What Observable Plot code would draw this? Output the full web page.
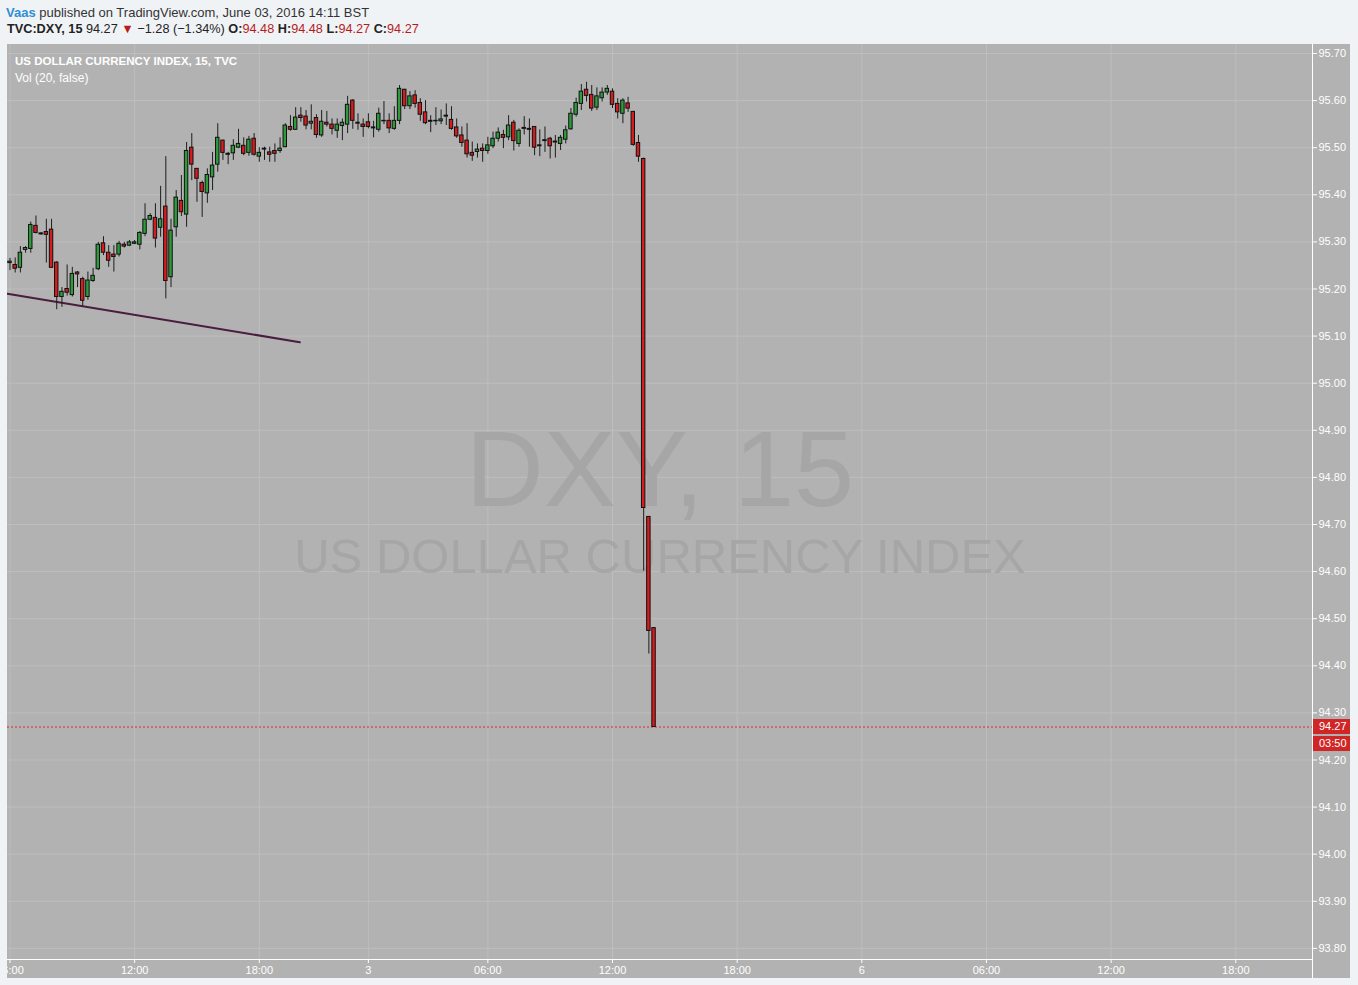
<!DOCTYPE html>
<html><head><meta charset="utf-8">
<script src="https://cdn.jsdelivr.net/npm/d3@7"></script>
<script src="https://cdn.jsdelivr.net/npm/@observablehq/plot@0.6"></script>
<style>
body{margin:0;background:#f0f3f6;font-family:"Liberation Sans",Arial,sans-serif;width:1358px;height:985px;position:relative;overflow:hidden}
#h1{position:absolute;left:6px;top:5px;font-size:13px;color:#333;white-space:nowrap}
#h1 .u{color:#2f8fd3;font-weight:bold}
#h2{position:absolute;left:7px;top:22px;font-size:12.7px;color:#222;white-space:nowrap}
#h2 b{font-weight:bold}
.r{color:#b71c1c}
#chart{position:absolute;left:7px;top:44px}
#legend{position:absolute;left:15px;top:53px;color:#fff;font-size:12px;line-height:17px;white-space:nowrap}
#legend .t{font-weight:bold;font-size:11.5px}
</style></head><body>
<div id="h1"><span class="u">Vaas</span> published on TradingView.com, June 03, 2016 14:11 BST</div>
<div id="h2"><b>TVC:DXY, 15</b> 94.27 <span class="r">▼</span> −1.28 (−1.34%) <b>O:</b><span class="r">94.48</span> <b>H:</b><span class="r">94.48</span> <b>L:</b><span class="r">94.27</span> <b>C:</b><span class="r">94.27</span></div>
<div id="chart"></div>
<div id="legend"><div class="t">US DOLLAR CURRENCY INDEX, 15, TVC</div><div>Vol (20, false)</div></div>
<script>
// 15-minute candles, June 2 06:00 BST -> June 3 14:00 BST
const open = [95.255,95.251,95.245,95.283,95.285,95.334,95.316,95.321,95.326,95.256,
95.183,95.200,95.187,95.235,95.221,95.183,95.217,95.242,95.297,95.277,
95.273,95.273,95.294,95.292,95.296,95.294,95.317,95.347,95.351,95.330,
95.375,95.225,95.331,95.387,95.358,95.500,95.455,95.425,95.403,95.437,
95.464,95.515,95.485,95.488,95.500,95.504,95.489,95.519,95.481,95.496,
95.490,95.493,95.493,95.501,95.544,95.538,95.568,95.566,95.551,95.563,
95.526,95.553,95.549,95.536,95.546,95.549,95.600,95.551,95.549,95.554,
95.541,95.538,95.556,95.557,95.540,95.557,95.623,95.588,95.611,95.595,
95.575,95.555,95.556,95.556,95.566,95.559,95.543,95.526,95.515,95.489,
95.491,95.498,95.493,95.503,95.519,95.527,95.522,95.553,95.508,95.540,
95.540,95.544,95.505,95.514,95.519,95.511,95.508,95.517,95.539,95.570,
95.593,95.623,95.612,95.585,95.605,95.617,95.619,95.593,95.572,95.594,
95.576,95.510,95.476,94.716,94.48];
const high = [95.265,95.266,95.290,95.290,95.342,95.355,95.320,95.348,95.348,95.258,
95.203,95.251,95.246,95.237,95.225,95.236,95.244,95.299,95.311,95.292,
95.292,95.301,95.299,95.303,95.303,95.322,95.381,95.360,95.381,95.418,
95.481,95.348,95.409,95.441,95.511,95.530,95.456,95.429,95.455,95.490,
95.551,95.516,95.490,95.517,95.539,95.521,95.524,95.530,95.500,95.501,
95.501,95.508,95.521,95.551,95.568,95.585,95.585,95.579,95.591,95.570,
95.579,95.577,95.561,95.561,95.561,95.609,95.602,95.572,95.561,95.572,
95.556,95.584,95.598,95.572,95.587,95.632,95.624,95.619,95.621,95.604,
95.600,95.568,95.585,95.580,95.593,95.587,95.561,95.544,95.551,95.512,
95.508,95.508,95.522,95.533,95.542,95.537,95.568,95.558,95.540,95.566,
95.561,95.545,95.538,95.544,95.522,95.526,95.526,95.546,95.583,95.605,
95.634,95.639,95.632,95.627,95.627,95.632,95.625,95.604,95.604,95.607,
95.577,95.526,95.478,94.717,94.48];
const low = [95.239,95.234,95.234,95.276,95.276,95.317,95.314,95.255,95.244,95.156,
95.161,95.185,95.183,95.203,95.163,95.176,95.214,95.239,95.271,95.246,
95.236,95.268,95.287,95.290,95.294,95.283,95.311,95.345,95.287,95.310,
95.179,95.203,95.310,95.354,95.331,95.430,95.384,95.352,95.382,95.409,
95.448,95.473,95.464,95.473,95.498,95.483,95.482,95.482,95.469,95.473,
95.469,95.469,95.488,95.500,95.535,95.537,95.554,95.538,95.538,95.520,
95.522,95.544,95.527,95.520,95.515,95.530,95.539,95.537,95.522,95.540,
95.521,95.533,95.549,95.530,95.537,95.549,95.581,95.581,95.584,95.556,
95.549,95.532,95.547,95.549,95.547,95.537,95.520,95.501,95.478,95.471,
95.478,95.469,95.486,95.498,95.512,95.498,95.515,95.493,95.501,95.527,
95.501,95.483,95.481,95.490,95.476,95.478,95.494,95.508,95.537,95.565,
95.579,95.597,95.577,95.579,95.597,95.611,95.583,95.561,95.551,95.575,
95.503,95.469,94.601,94.425,94.27];
const close = [95.258,95.243,95.277,95.287,95.336,95.319,95.318,95.315,95.245,95.183,
95.194,95.192,95.232,95.231,95.175,95.218,95.228,95.294,95.277,95.260,
95.268,95.296,95.290,95.299,95.299,95.319,95.347,95.355,95.307,95.348,
95.217,95.324,95.394,95.363,95.493,95.464,95.434,95.406,95.442,95.462,
95.521,95.489,95.487,95.504,95.508,95.487,95.517,95.485,95.489,95.498,
95.485,95.487,95.498,95.547,95.538,95.564,95.563,95.547,95.555,95.527,
95.555,95.549,95.540,95.549,95.553,95.591,95.557,95.553,95.544,95.544,
95.543,95.572,95.557,95.541,95.557,95.625,95.588,95.609,95.593,95.570,
95.552,95.557,95.557,95.560,95.568,95.540,95.524,95.510,95.486,95.483,
95.496,95.493,95.505,95.519,95.532,95.521,95.547,95.514,95.536,95.542,
95.538,95.500,95.503,95.516,95.503,95.513,95.521,95.537,95.572,95.595,
95.619,95.610,95.583,95.609,95.617,95.625,95.591,95.575,95.600,95.583,
95.506,95.481,94.735,94.474,94.27];

// time axis (candle slot index -> label); slots after 124 are the empty future
const xTickIndex = [0, 24, 48, 69, 92, 116, 140, 164, 188, 212, 236];
const xTickLabels = ["06:00", "12:00", "18:00", "3", "06:00", "12:00", "18:00", "6", "06:00", "12:00", "18:00"];
const yTicks = [93.8,93.9,94.0,94.1,94.2,94.3,94.4,94.5,94.6,94.7,94.8,94.9,95.0,95.1,95.2,95.3,95.4,95.5,95.6,95.7];

// hand-drawn trend line (slot index, price)
const trendIndex = [-0.5, 55.8];
const trendValue = [95.190, 95.087];

const watermarkTitle = "DXY, 15";
const watermarkName = "US DOLLAR CURRENCY INDEX";
const timerLabel = "03:50";

const candles = open.map((o, i) => ({i, open: o, high: high[i], low: low[i], close: close[i]}));
const trend = trendIndex.map((x, k) => ({x, y: trendValue[k]}));
const labelMap = new Map(xTickIndex.map((d, k) => [d, xTickLabels[k]]));
const last = close[close.length - 1];

const W = 1343, H = 934, MR = 38, MB = 19;
const chart = Plot.plot({
  width: W, height: H,
  marginLeft: 0, marginTop: 0, marginRight: MR, marginBottom: MB,
  style: {background: "#b2b2b2", fontFamily: "Liberation Sans, Arial, sans-serif", fontSize: "11px", overflow: "hidden"},
  x: {type: "linear", domain: [-0.481, 250.77]},
  y: {domain: [93.7764, 95.7191]},
  color: {type: "identity"},
  marks: [
    Plot.gridY(yTicks, {stroke: "#bebebe", strokeOpacity: 1}),
    Plot.gridX(xTickIndex, {stroke: "#bebebe", strokeOpacity: 1}),
    Plot.text([watermarkTitle], {frameAnchor: "middle", dy: -31, fontSize: 108, fill: "#a6a6a6", fontFamily: "Liberation Sans, Arial, sans-serif"}),
    Plot.text([watermarkName], {frameAnchor: "middle", dy: 55, fontSize: 49, fill: "#a6a6a6", fontFamily: "Liberation Sans, Arial, sans-serif"}),
    Plot.line(trend, {x: "x", y: "y", stroke: "#4b1c3e", strokeWidth: 2}),
    Plot.ruleY([last], {stroke: "#e3262b", strokeDasharray: "2,2"}),
    Plot.ruleX(candles, {x: "i", y1: "low", y2: "high", stroke: "#1e1e1e", strokeWidth: 1}),
    Plot.rect(candles, {
      x1: d => d.i - 0.33, x2: d => d.i + 0.33, y1: "open", y2: "close",
      fill: d => d.close >= d.open ? "#2e9c3b" : "#d61c1c", stroke: "#111", strokeWidth: 1
    }),
    Plot.axisX(xTickIndex, {anchor: "bottom", tickSize: 4, tickPadding: 3, color: "#fff", tickFormat: d => labelMap.get(d)}),
    Plot.axisY(yTicks, {anchor: "right", tickSize: 4, tickPadding: 2, color: "#fff", tickFormat: d => d.toFixed(2), textAnchor: "start"})
  ]
});
document.getElementById("chart").appendChild(chart);

// axis lines and last-price tag
const svg = d3.select(chart);
const fx = W - MR, fy = H - MB;
svg.append("line").attr("x1", fx + 0.5).attr("x2", fx + 0.5).attr("y1", 0).attr("y2", H).attr("stroke", "#fff");
svg.append("line").attr("x1", 0).attr("x2", fx).attr("y1", fy + 0.5).attr("y2", fy + 0.5).attr("stroke", "#fff");
const yp = chart.scale("y").apply(last);
const tag = svg.append("g").attr("font-family", "Liberation Sans, Arial, sans-serif").attr("font-size", 11).attr("text-anchor", "start");
tag.append("rect").attr("x", fx + 1).attr("y", yp - 7.5).attr("width", MR - 1).attr("height", 15).attr("fill", "#d02626");
tag.append("text").attr("x", fx + 7).attr("y", yp).attr("dy", "0.35em").attr("fill", "#fff").text(last.toFixed(2));
tag.append("rect").attr("x", fx + 1).attr("y", yp + 9.5).attr("width", MR - 1).attr("height", 15).attr("fill", "#d02626");
tag.append("text").attr("x", fx + 7).attr("y", yp + 17).attr("dy", "0.35em").attr("fill", "#fff").text(timerLabel);
</script>
</body></html>
